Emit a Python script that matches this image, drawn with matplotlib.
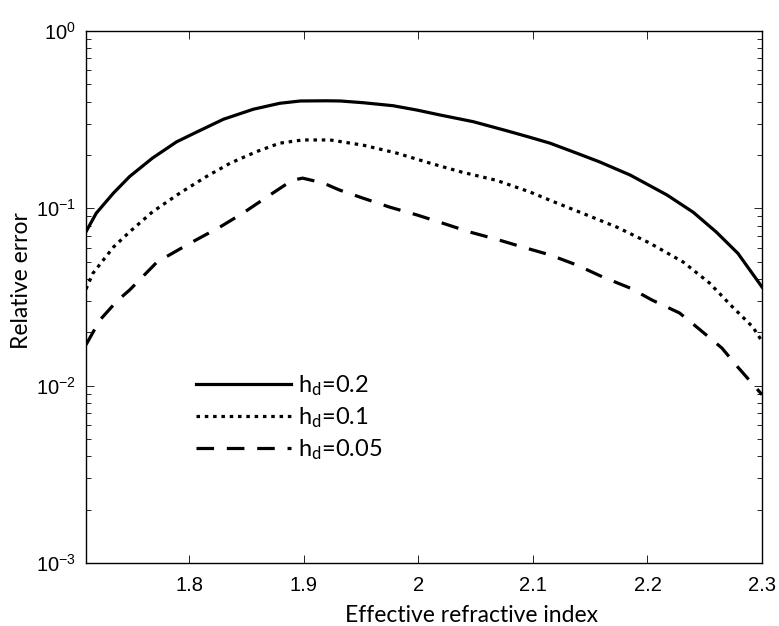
import matplotlib
matplotlib.use('Agg')
import matplotlib.pyplot as plt
from matplotlib.ticker import LogLocator, NullFormatter

# values (effective index vs. relative error)
x_02 = [1.71, 1.719, 1.734, 1.748, 1.768, 1.789, 1.807, 1.830, 1.856, 1.879,
        1.897, 1.92, 1.932, 1.952, 1.978, 1.999, 2.019, 2.048, 2.077, 2.097,
        2.115, 2.138, 2.158, 2.185, 2.217, 2.240, 2.260, 2.279, 2.30]
err_02 = [0.0738, 0.094, 0.122, 0.151, 0.192, 0.237, 0.27, 0.318, 0.362, 0.391,
          0.403, 0.404, 0.403, 0.394, 0.379, 0.358, 0.336, 0.308, 0.274, 0.252,
          0.233, 0.205, 0.183, 0.154, 0.119, 0.095, 0.0736, 0.0557, 0.036]

x_01 = [1.71, 1.716, 1.734, 1.748, 1.768, 1.792, 1.815, 1.836, 1.859, 1.879,
        1.899, 1.923, 1.952, 1.981, 2.010, 2.038, 2.068, 2.097, 2.115, 2.143,
        2.173, 2.202, 2.231, 2.254, 2.274, 2.292, 2.30]
err_01 = [0.035, 0.043, 0.0605, 0.0736, 0.0955, 0.122, 0.151, 0.18, 0.209, 0.233,
          0.243, 0.243, 0.227, 0.205, 0.18, 0.16, 0.144, 0.124, 0.111, 0.094,
          0.0785, 0.0637, 0.0499, 0.038, 0.0279, 0.0214, 0.0178]

x_005 = [1.71, 1.722, 1.737, 1.748, 1.772, 1.801, 1.827, 1.847, 1.868, 1.890,
         1.899, 1.917, 1.931, 1.952, 1.975, 1.999, 2.021, 2.045, 2.068, 2.091,
         2.115, 2.138, 2.161, 2.185, 2.204, 2.228, 2.245, 2.265, 2.279, 2.30]
err_005 = [0.017, 0.0234, 0.030, 0.0346, 0.0498, 0.0637, 0.0785, 0.094, 0.116, 0.144,
           0.148, 0.139, 0.127, 0.114, 0.1016, 0.0917, 0.0826, 0.0735, 0.067, 0.0605,
           0.0546, 0.048, 0.041, 0.0355, 0.0304, 0.0257, 0.0209, 0.0163, 0.0127, 0.0089]

labels = [r'h$_\mathregular{d}$=0.2', r'h$_\mathregular{d}$=0.1', r'h$_\mathregular{d}$=0.05']
x_ticks = [1.8, 1.9, 2.0, 2.1, 2.2, 2.3]
x_tick_labels = ['1.8', '1.9', '2', '2.1', '2.2', '2.3']

label_font = 'Lato'
tick_font = 'Liberation Sans'

plt.rcParams['font.family'] = tick_font
plt.rcParams['mathtext.fontset'] = 'custom'
plt.rcParams['mathtext.rm'] = tick_font
plt.rcParams['mathtext.it'] = tick_font + ':italic'
plt.rcParams['mathtext.bf'] = tick_font + ':bold'

fig = plt.figure(figsize=(7.79, 6.26), dpi=100)
ax = fig.add_axes([0.1104, 0.1006, 0.8678, 0.8499])

lw = 2.3
ax.plot(x_02, err_02, color='black', lw=lw, linestyle='-', label=labels[0])
ax.plot(x_01, err_01, color='black', lw=lw, linestyle=(0, (1.1, 1.5)), label=labels[1])
ax.plot(x_005, err_005, color='black', lw=lw, linestyle=(0, (5.5, 4.0)), label=labels[2])

ax.set_yscale('log')
ax.set_xlim(1.71, 2.3)
ax.set_ylim(1e-3, 1e0)

ax.set_xticks(x_ticks)
ax.set_xticklabels(x_tick_labels)
ax.yaxis.set_major_locator(LogLocator(base=10, numticks=10))
ax.yaxis.set_minor_locator(LogLocator(base=10, subs=range(2, 10), numticks=20))
ax.yaxis.set_minor_formatter(NullFormatter())

ax.tick_params(which='both', direction='in', top=True, right=True, width=0.6)
ax.tick_params(which='major', length=6)
ax.tick_params(which='minor', length=3.5)
ax.tick_params(axis='both', labelsize=14.5)
ax.tick_params(axis='x', pad=9)
ax.tick_params(axis='y', pad=7)

for s in ax.spines.values():
    s.set_linewidth(1.0)

ax.set_xlabel('Effective refractive index', fontfamily=label_font, fontsize=16.5)
ax.set_ylabel('Relative error', fontfamily=label_font, fontsize=16.5)
ax.xaxis.set_label_coords(0.57, -0.078)
ax.yaxis.set_label_coords(-0.08, 0.53)

leg = ax.legend(loc='center left', bbox_to_anchor=(0.163, 0.274), frameon=False,
                prop={'family': label_font, 'size': 17}, handlelength=4.0,
                handletextpad=0.3, labelspacing=0.3, borderpad=0, borderaxespad=0)

fig.savefig('out.png', dpi=100)
